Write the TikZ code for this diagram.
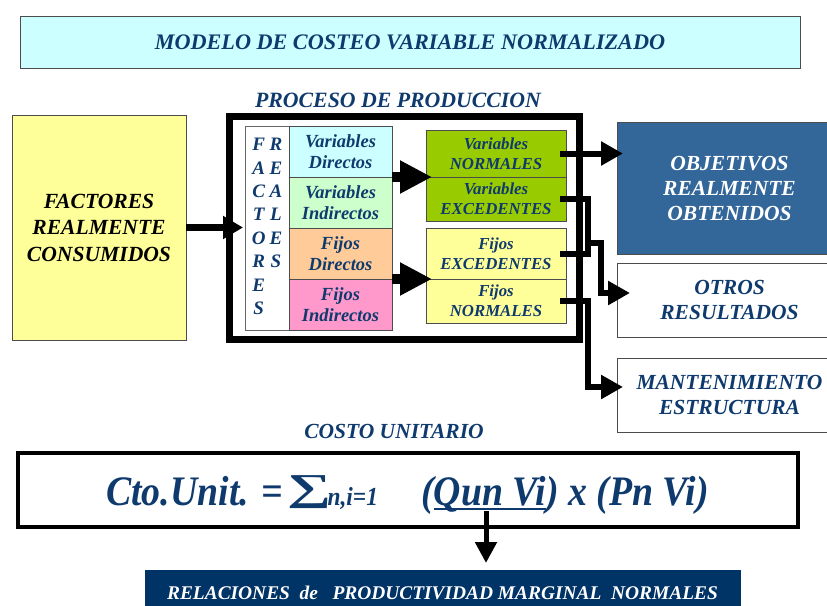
\documentclass[tikz,border=0pt]{standalone}
\usepackage{fontspec}
\setmainfont{Liberation Serif}
\newfontfamily\formfont[FakeStretch=0.9]{Liberation Serif}
\usetikzlibrary{arrows.meta}
\definecolor{tb}{HTML}{0F3A6E}
\definecolor{cyanbg}{HTML}{CCFFFF}
\definecolor{yelbg}{HTML}{FFFF99}
\definecolor{greenbg}{HTML}{CCFFCC}
\definecolor{peachbg}{HTML}{FFCC99}
\definecolor{pinkbg}{HTML}{FF99CC}
\definecolor{limebg}{HTML}{99CC00}
\definecolor{objbg}{HTML}{336699}
\definecolor{relbg}{HTML}{003366}
\newcommand{\myul}[1]{\setbox0\hbox{#1}\rlap{\rule[-5pt]{\wd0}{2.5pt}}\box0}
\newcommand{\bigsum}{\setbox2\hbox{\resizebox*{44pt}{33pt}{∑}}\kern-5pt\raisebox{\dimexpr\dp2+5pt\relax}{\box2}\kern-4pt}
\begin{document}
\begin{tikzpicture}[x=1pt,y=-1pt,
  box/.style={draw=black!70, line width=0.9pt, inner sep=0pt, outer sep=0pt, anchor=north west, align=center, text=tb},
  lfont/.style={font=\fontsize{18.5}{21}\selectfont\bfseries\itshape},
  rfont/.style={font=\fontsize{16.8}{20}\selectfont\bfseries\itshape},
  bfont/.style={font=\fontsize{21.5}{25}\selectfont\bfseries\itshape},
  ffont/.style={font=\fontsize{42}{46}\formfont\bfseries\itshape},
  bigarr/.style={line width=7pt, -{Triangle[length=20pt,width=22pt]}},
  vararr/.style={line width=10pt, -{Triangle[length=32pt,width=31pt]}},
  rarr/.style={line width=6pt, -{Triangle[length=22pt,width=23pt]}},
  rline/.style={line width=6pt},
  darr/.style={line width=5pt, -{Triangle[length=21pt,width=21pt]}},
]
\useasboundingbox (0,0) rectangle (827,605);

% title
\node[box, fill=cyanbg, minimum width=780pt, minimum height=52pt,
      font=\fontsize{22.2}{26}\selectfont\bfseries\itshape] (title) at (20,16)
      {MODELO DE COSTEO VARIABLE NORMALIZADO};

\node[text=tb, font=\fontsize{21.8}{24}\selectfont\bfseries\itshape] (proc) at (398,100) {PROCESO DE PRODUCCION};

% factores
\node[box, fill=yelbg, text=black, minimum width=174pt, minimum height=225pt,
      font=\fontsize{21.6}{26.5}\selectfont\bfseries\itshape] (fact) at (12,115)
      {FACTORES\\REALMENTE\\CONSUMIDOS};

% frame
\node[draw, line width=7pt, minimum width=349.5pt, minimum height=223pt, inner sep=0pt, outer sep=0pt, anchor=north west] (frame) at (229.5,116) {};

% column of letters
\node[box, fill=white, draw=black!60, minimum width=44pt, minimum height=204pt,
      font=\fontsize{19}{23.4}\selectfont\bfseries\itshape] (col) at (245,126)
      {\begin{tabular}{@{}c@{\hspace{4pt}}c@{}}F&R\\A&E\\C&A\\T&L\\O&E\\R&S\\E&\\S&\end{tabular}};

% left boxes
\node[box, fill=cyanbg, minimum width=103pt, minimum height=51pt, lfont] (vd) at (289,126) {Variables\\Directos};
\node[box, fill=greenbg, minimum width=103pt, minimum height=51pt, lfont] (vi) at (289,177) {Variables\\Indirectos};
\node[box, fill=peachbg, minimum width=103pt, minimum height=51pt, lfont] (fd) at (289,228) {Fijos\\Directos};
\node[box, fill=pinkbg, minimum width=103pt, minimum height=51pt, lfont] (fi) at (289,279) {Fijos\\Indirectos};

% right boxes
\node[box, fill=limebg, minimum width=140pt, minimum height=47pt, rfont] (vn) at (426,130) {Variables\\NORMALES};
\node[box, fill=limebg, minimum width=140pt, minimum height=44pt, rfont] (ve) at (426,177) {Variables\\EXCEDENTES};
\node[box, fill=yelbg, minimum width=140pt, minimum height=51pt, rfont] (fe) at (426,228) {Fijos\\EXCEDENTES};
\node[box, fill=yelbg, minimum width=140pt, minimum height=44pt, rfont] (fn) at (426,279) {Fijos\\NORMALES};

% result boxes
\node[box, fill=objbg, text=white, minimum width=225pt, minimum height=132pt, bfont] (obj) at (617,122) {OBJETIVOS\\REALMENTE\\OBTENIDOS};
\node[box, fill=white, minimum width=225pt, minimum height=74pt, bfont] (otr) at (617,263) {OTROS\\RESULTADOS};
\node[box, fill=white, minimum width=225pt, minimum height=74pt, bfont] (man) at (617,358) {MANTENIMIENTO\\ESTRUCTURA};

% connectors
\draw[bigarr, shorten >=2pt] (fact.east) -- (col.west |- fact.east);
\draw[vararr, shorten >=-6pt] (vd.south east) -- (vn.south west);
\draw[vararr, shorten >=-6pt] (fd.south east) -- (fe.south west);

\coordinate (jx) at (588,0);
\coordinate (b1) at (588,243);
\coordinate (b2) at (601,243);
\coordinate (b3) at (601,293);
\coordinate (c1) at (588,387);

\draw[rarr, shorten >=-6pt] ([xshift=-6pt]vn.east) -- (vn.east -| obj.west);
\draw[rline] ([xshift=-6pt]ve.east) -- (ve.east -| jx) -- (fe.east -| jx) -- ([xshift=-6pt]fe.east);
\draw[rarr, shorten >=-13pt] (b1) -- (b2) -- (b3) -- (b3 -| otr.west);
\draw[rarr, shorten >=-6pt] ([xshift=-6pt]fn.east) -- (fn.east -| c1) -- (c1) -- (c1 -| man.west);

% costo unitario
\node[text=tb, font=\fontsize{21.5}{24}\selectfont\bfseries\itshape] (cu) at (394,431) {COSTO UNITARIO};
\node[draw=black, line width=3.5pt, minimum width=780pt, minimum height=74pt, inner sep=0pt, outer sep=0pt, anchor=north west] (form) at (18,453) {};
\node[anchor=base west, text=tb, inner sep=0pt, ffont] (ftxta) at (106,505)
  {Cto.Unit. = \bigsum{\fontsize{26}{30}\selectfont n,i=1}};
\node[anchor=base west, text=tb, inner sep=0pt, ffont] (ftxtb) at (421,505)
  {(\myul{Qun Vi}) x (Pn Vi)};

\node[box, fill=relbg, draw=relbg, text=white, minimum width=595pt, minimum height=45pt,
      font=\fontsize{19.4}{22}\selectfont\bfseries\itshape] (rel) at (145,570)
      {RELACIONES\ \ de\ \ \ PRODUCTIVIDAD MARGINAL\ \ NORMALES};

\coordinate (u) at (486,511);
\draw[darr, shorten >=7pt] (u) -- (u |- rel.north);
\end{tikzpicture}
\end{document}
